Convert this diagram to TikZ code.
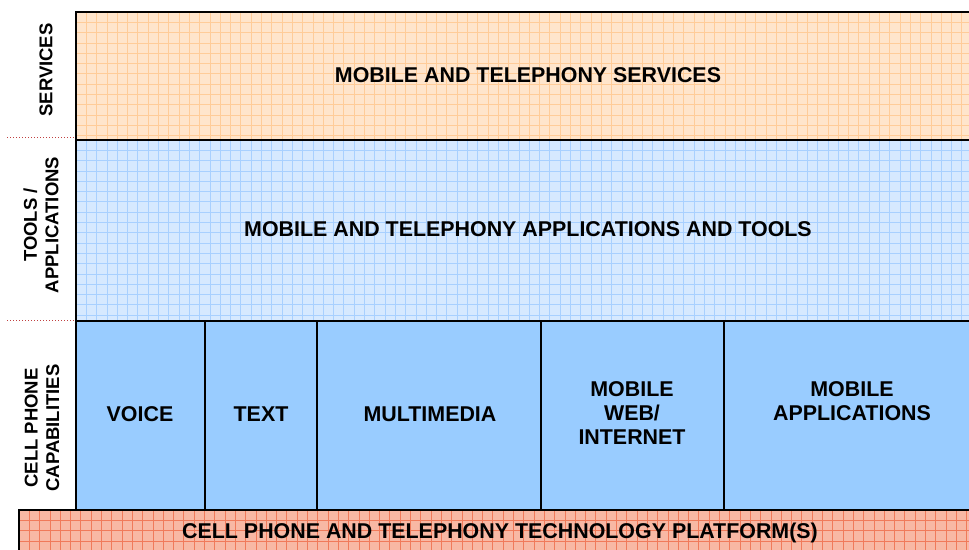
\documentclass[tikz,border=0pt]{standalone}
\usepackage{fontspec}
\setmainfont{Liberation Sans}
\begin{document}
\definecolor{svcfill}{HTML}{FFE5CC}
\definecolor{svcgrid}{HTML}{FFCC99}
\definecolor{toolfill}{HTML}{D6E9FF}
\definecolor{toolgrid}{HTML}{A8D0FF}
\definecolor{capfill}{HTML}{99CCFF}
\definecolor{platfill}{HTML}{F8B8A4}
\definecolor{platgrid}{HTML}{F07A5A}
\definecolor{sepred}{HTML}{C04040}
\begin{tikzpicture}[x=1pt,y=-1pt,
  layer/.style={draw=black,line width=2pt},
  gridlines/.style={line width=0.8pt},
  heading/.style={font=\bfseries\fontsize{21.4}{24}\selectfont,align=center},
  sidelabel/.style={font=\bfseries\fontsize{18.5}{21.5}\selectfont,align=center,rotate=90},
  separator/.style={draw=sepred,dotted,line width=1pt}]
\useasboundingbox (0,0) rectangle (969,549);

% services layer
\fill[svcfill] (76,12) rectangle (975,140);
\begin{scope}
  \clip (76,12) rectangle (975,140);
  \foreach \i in {0,...,88} \draw[svcgrid,gridlines] (76+\i*10.3,12) -- (76+\i*10.3,140);
  \foreach \j in {0,...,13} \draw[svcgrid,gridlines] (76,12+\j*10.3) -- (975,12+\j*10.3);
\end{scope}
\draw[layer] (975,12) -- (76,12) -- (76,140) -- (975,140);
\node[heading] (svc) at (528,75) {MOBILE AND TELEPHONY SERVICES};

% tools / applications layer
\fill[toolfill] (76,140) rectangle (975,321);
\begin{scope}
  \clip (76,140) rectangle (975,321);
  \foreach \i in {0,...,88} \draw[toolgrid,gridlines] (76+\i*10.3,140) -- (76+\i*10.3,321);
  \foreach \j in {0,...,18} \draw[toolgrid,gridlines] (76,140+\j*10.3) -- (975,140+\j*10.3);
\end{scope}
\draw[layer] (975,140) -- (76,140) -- (76,321) -- (975,321);
\node[heading] (tools) at (528,229) {MOBILE AND TELEPHONY APPLICATIONS AND TOOLS};

% cell phone capabilities
\fill[capfill] (76,321) rectangle (975,510);
\draw[layer] (975,321) -- (76,321) -- (76,510);
\draw[layer] (205,321) -- (205,510);
\draw[layer] (317,321) -- (317,510);
\draw[layer] (541,321) -- (541,510);
\draw[layer] (724,321) -- (724,510);
\node[heading] (voice) at (140,414) {VOICE};
\node[heading] (text) at (261,414) {TEXT};
\node[heading] (mm) at (430,414) {MULTIMEDIA};
\node[heading] (web) at (632,413) {MOBILE\\WEB/\\INTERNET};
\node[heading] (apps) at (852,401) {MOBILE\\APPLICATIONS};

% platform layer
\fill[platfill] (19,510) rectangle (975,555);
\begin{scope}
  \clip (19,510) rectangle (975,555);
  \foreach \i in {0,...,94} \draw[platgrid,gridlines] (19+\i*10.3,510) -- (19+\i*10.3,555);
  \foreach \j in {0,...,4} \draw[platgrid,gridlines] (19,510+\j*10.3) -- (975,510+\j*10.3);
\end{scope}
\draw[layer] (975,510) -- (19,510) -- (19,555);
\node[heading] (plat) at (500,533) {CELL PHONE AND TELEPHONY TECHNOLOGY PLATFORM(S)};

% side labels and separators
\draw[separator] (7,137) -- (75,137);
\draw[separator] (7,320) -- (75,320);
\node[sidelabel] (lsvc) at (46,70) {SERVICES};
\node[sidelabel] (ltools) at (41,225) {TOOLS /\\APPLICATIONS};
\node[sidelabel] (lcap) at (42,428) {CELL PHONE\\CAPABILITIES};
\end{tikzpicture}
\end{document}
